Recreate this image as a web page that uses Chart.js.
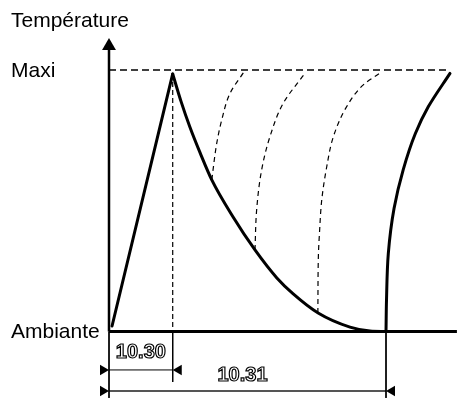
<!DOCTYPE html>
<html lang="fr">
<head>
<meta charset="utf-8">
<title>Température</title>
<script src="https://cdn.jsdelivr.net/npm/chart.js@4.4.1/dist/chart.umd.min.js"></script>
<style>
  html, body { margin: 0; padding: 0; background: #fff; }
  canvas { display: block; }
</style>
</head>
<body>
<canvas id="graphe" width="457" height="398"></canvas>
<script>
/**
 * Courbe de température - données lues sur le schéma
 * (temps : 0 = départ, 100 = retour à l'ambiante ; température : 0 = ambiante, 100 = maxi)
 */

// Niveaux
const niveauAmbiante = 0;
const niveauMaxi = 100;
const tempsPic = 23;
const tempsRetour = 100;

// Montée en température
const monteeTemps = [1.1, 23];
const monteeTemp = [2.1, 98.5];

// Refroidissement
const refroidTemps = [23, 26, 29.2, 32.9, 37.1, 44.8, 52.7, 60.6, 66.4, 75.5, 87.0, 94.2, 100];
const refroidTemp = [98.5, 88, 78.2, 68.3, 58.0, 43.8, 31.2, 20.5, 14.5, 7.1, 1.7, 0.2, 0];

// Réchauffes intermédiaires (pointillés)
const rechauffe1Temps = [37.1, 38.9, 40.7, 43.7, 48.8];
const rechauffe1Temp = [58.0, 72.0, 80.9, 91.1, 99.4];
const rechauffe2Temps = [52.7, 53.3, 55.1, 58.1, 62.9, 70.8];
const rechauffe2Temp = [31.2, 46.5, 61.8, 74.5, 87.3, 98.8];
const rechauffe3Temps = [75.4, 75.6, 76.0, 76.8, 78.6, 81.0, 85.8, 91.8, 97.8];
const rechauffe3Temp = [7.1, 29.3, 38.0, 50.3, 63.0, 74.5, 86.0, 94.3, 98.8];

// Nouvelle chauffe après retour à l'ambiante
const chauffeTemps = [100, 100.18, 100.83, 102.9, 106.2, 110.6, 115.3, 123.1];
const chauffeTemp = [0, 12, 29.8, 47, 61.8, 75.7, 86.0, 98.7];

// Lignes de repère
const maxiTemps = [0, 122.5];
const ambianteTemps = [0, 125.6];
const axeTemp = [0, 108];
const flecheAxeTemp = 109.2;

// Cotes
const coteDebut = [0, 0];
const coteFin = [tempsPic, tempsRetour];
const coteNiveaux = [-14.7, -22.75];
const coteLabels = ['10.30', '10.31'];
const repereTemps = [0, tempsPic, tempsRetour];
const repereBas = [-25.4, -19.3, -25.4];

// Textes
const titreAxe = 'Température';
const etiquettesNiveaux = ['Maxi', 'Ambiante'];

const POLICE = '"Liberation Sans", Arial, Helvetica, sans-serif';

/**
 * Construire une liste de points {x, y}
 */
function points(xs, ys) {
    return xs.map((x, i) => ({ x: x, y: ys[i] }));
}

function trait(data, largeur, extra) {
    return Object.assign({
        data: data,
        showLine: true,
        borderColor: '#000',
        borderWidth: largeur,
        pointRadius: 0,
        fill: false,
        clip: false
    }, extra || {});
}

// Refroidissement : y fonction de x ; réchauffes : x fonction de y (départ vertical)
const courbeX = { cubicInterpolationMode: 'monotone', borderCapStyle: 'round' };
const courbeY = { cubicInterpolationMode: 'monotone', borderCapStyle: 'round', indexAxis: 'y' };
const pointille = { borderDash: [5, 4], cubicInterpolationMode: 'monotone', indexAxis: 'y' };

// Flèches des cotes (triangles)
const decalageFleche = 2.17;
const flechesDroite = coteNiveaux.map((y, i) => ({ x: coteDebut[i] - decalageFleche, y: y }));
const flechesGauche = coteNiveaux.map((y, i) => ({ x: coteFin[i] + decalageFleche, y: y }));

function fleches(data, rayon, rotation) {
    return { data: data, showLine: false, pointStyle: 'triangle', pointRadius: rayon,
             pointRotation: rotation, pointBackgroundColor: '#000', pointBorderWidth: 0, clip: false };
}

const datasets = [
    // Ligne Maxi
    trait(points(maxiTemps, [niveauMaxi, niveauMaxi]), 1.3, { borderDash: [7, 4] }),
    // Axe des températures
    trait(points([0, 0], axeTemp), 2.5),
    fleches([{ x: 0, y: flecheAxeTemp }], 8, 0),
    // Ligne ambiante
    trait(points(ambianteTemps, [niveauAmbiante, niveauAmbiante]), 3),
    // Pointillé vertical au pic
    trait(points([tempsPic, tempsPic], [monteeTemp[1], niveauAmbiante]), 1.2, { borderDash: [5, 3] }),
    // Réchauffes
    trait(points(rechauffe1Temps, rechauffe1Temp), 1.2, pointille),
    trait(points(rechauffe2Temps, rechauffe2Temp), 1.2, pointille),
    trait(points(rechauffe3Temps, rechauffe3Temp), 1.2, pointille),
    // Montée / refroidissement / chauffe
    trait(points(monteeTemps, monteeTemp), 3, { borderCapStyle: 'round' }),
    trait(points(refroidTemps, refroidTemp), 3, courbeX),
    trait(points(chauffeTemps, chauffeTemp), 3, courbeY),
    // Traits de rappel des cotes
    ...repereTemps.map((t, i) => trait(points([t, t], [niveauAmbiante, repereBas[i]]), 1)),
    // Lignes de cote
    trait(points([coteDebut[0], coteFin[0]], [coteNiveaux[0], coteNiveaux[0]]), 1),
    trait(points([coteDebut[1], coteFin[1]], [coteNiveaux[1], coteNiveaux[1]]), 2, { borderColor: '#555' }),
    fleches(flechesDroite, 6, 90),
    fleches(flechesGauche, 6, 270)
];

/**
 * Plugin : textes du schéma
 */
const textes = {
    id: 'textes',
    afterDatasetsDraw(chart) {
        const ctx = chart.ctx;
        const sx = chart.scales.x;
        const sy = chart.scales.y;
        ctx.save();
        ctx.fillStyle = '#000';
        ctx.font = '21px ' + POLICE;
        ctx.textAlign = 'left';
        ctx.textBaseline = 'alphabetic';
        ctx.fillText(titreAxe, 11, sy.getPixelForValue(flecheAxeTemp) - 19);
        ctx.fillText(etiquettesNiveaux[0], 11, sy.getPixelForValue(niveauMaxi) + 6.5);
        ctx.fillText(etiquettesNiveaux[1], 11, sy.getPixelForValue(niveauAmbiante) + 6);

        // Valeurs des cotes en lettres évidées
        ctx.font = 'bold 20px ' + POLICE;
        ctx.textAlign = 'center';
        ctx.lineWidth = 1.2;
        ctx.strokeStyle = '#000';
        coteLabels.forEach((txt, i) => {
            let x = sx.getPixelForValue((coteDebut[i] + coteFin[i]) / 2);
            if (i === 1) x -= 5;
            const y = sy.getPixelForValue(coteNiveaux[i]) - (i === 0 ? 11.5 : 9.5);
            ctx.fillStyle = '#fff';
            ctx.fillText(txt, x, y);
            ctx.strokeText(txt, x, y);
        });
        ctx.restore();
    }
};

new Chart(document.getElementById('graphe').getContext('2d'), {
    type: 'line',
    data: { datasets: datasets },
    options: {
        responsive: false,
        animation: false,
        devicePixelRatio: 1,
        layout: { padding: 0, autoPadding: false },
        elements: { line: { capBezierPoints: false } },
        plugins: {
            legend: { display: false },
            tooltip: { enabled: false },
            title: { display: false }
        },
        scales: {
            x: { type: 'linear', display: false, min: -39.35, max: 125.63 },
            y: { type: 'linear', display: false, min: -25.43, max: 126.77 }
        }
    },
    plugins: [textes]
});
</script>
</body>
</html>
